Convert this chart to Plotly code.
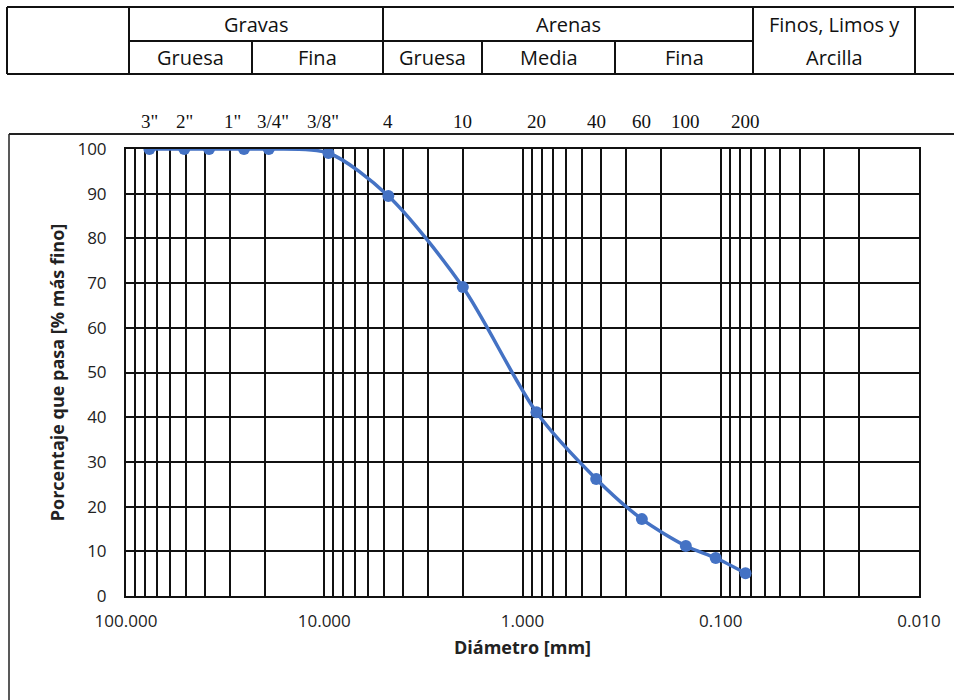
import math
import plotly.graph_objects as go

# Granulometric curve: particle diameter (mm) vs. percent passing
diametro_mm = [76.2, 50.8, 38.1, 25.4, 19.05, 9.525, 4.75, 2.0, 0.85, 0.425, 0.25, 0.15, 0.106, 0.075]
pasa_pct = [100, 100, 100, 100, 100, 99.1, 89.5, 69.1, 41.1, 26.2, 17.2, 11.2, 8.5, 5.1]

# Sieve designations shown above the plot
tamiz_etiquetas = ['3"', '2"', '1"', '3/4"', '3/8"', '4', '10', '20', '40', '60', '100', '200']
tamiz_mm = [76.2, 50.8, 25.4, 19.05, 9.525, 4.75, 2.0, 0.85, 0.425, 0.25, 0.15, 0.075]

# Soil classification header
grupos = ["Gravas", "Arenas"]
subgrupos = ["Gruesa", "Fina", "Gruesa", "Media", "Fina"]
finos = ["Finos, Limos y", "Arcilla"]

y_ticks = list(range(0, 101, 10))

W, H = 954, 700
L, R, T, B = 126, 35, 149, 104
pw, ph = W - L - R, H - T - B


def px(x):
    return (x - L) / pw


def py(y):
    return (H - B - y) / ph


# log grid: every 1..9 multiple of each decade from 0.01 to 100
x_tickvals, x_ticktext = [], []
for e in range(-2, 2):
    for d in range(1, 10):
        v = d * 10 ** e
        x_tickvals.append(v)
        x_ticktext.append(f"{v:.3f}" if d == 1 else "")
x_tickvals.append(100)
x_ticktext.append("100.000")

BLUE = "#4472C4"
INK = "#222"
SANS = "'Open Sans', Lato, sans-serif"
SERIF = "'Liberation Serif', 'DejaVu Serif', serif"

fig = go.Figure()
fig.add_trace(go.Scatter(
    x=diametro_mm, y=pasa_pct, mode="lines+markers",
    line=dict(color=BLUE, width=3.5, shape="spline", smoothing=0.8),
    marker=dict(color=BLUE, size=12),
    showlegend=False, hoverinfo="x+y",
))

shapes = []


def seg(x0, y0, x1, y1, w=2, c="#111"):
    shapes.append(dict(type="line", xref="paper", yref="paper",
                       x0=px(x0), y0=py(y0), x1=px(x1), y1=py(y1),
                       line=dict(color=c, width=w)))


# header table borders
row_top, row_mid, row_bot = 7, 41, 74
seg(7, row_top, 954, row_top)
seg(7, row_bot, 954, row_bot)
seg(129, row_mid, 753, row_mid)
for xv in (7, 129, 383, 753, 915):
    seg(xv, row_top, xv, row_bot)
for xv in (252, 482, 615):
    seg(xv, row_mid, xv, row_bot)

# chart frame
seg(9, 134, 954, 134, w=2, c="#222")
seg(9, 134, 9, 700, w=1.5, c="#222")

annotations = []


def label(text, x, y, size=20, family=SANS):
    annotations.append(dict(text=text, xref="paper", yref="paper",
                            x=px(x), y=py(y), xanchor="center", yanchor="middle",
                            showarrow=False, font=dict(family=family, size=size, color="#111")))


label(grupos[0], (129 + 383) / 2, 24)
label(grupos[1], (383 + 753) / 2, 24)
sub_bounds = [129, 252, 383, 482, 615, 753]
for i, s in enumerate(subgrupos):
    label(s, (sub_bounds[i] + sub_bounds[i + 1]) / 2, 57)
label(finos[0], (753 + 915) / 2, 24)
label(finos[1], (753 + 915) / 2, 57)

# sieve labels placed at their openings on the diameter scale;
# a couple of crowded ones are nudged apart
nudge = {'1"': -11, '3/4"': 4, '3/8"': -5}
for t, d in zip(tamiz_etiquetas, tamiz_mm):
    annotations.append(dict(text=t, xref="x", yref="paper", x=math.log10(d),
                            y=py(122), xanchor="center", yanchor="middle", showarrow=False,
                            xshift=nudge.get(t, 0),
                            font=dict(family=SERIF, size=19, color="#111")))

fig.update_layout(
    width=W, height=H,
    margin=dict(l=L, r=R, t=T, b=B, autoexpand=False),
    paper_bgcolor="white", plot_bgcolor="white",
    font=dict(family=SANS, size=16, color=INK),
    shapes=shapes, annotations=annotations,
    xaxis=dict(
        type="log", range=[2, -2],
        tickvals=x_tickvals, ticktext=x_ticktext,
        showgrid=True, gridcolor="#111", gridwidth=1.5,
        showline=True, linecolor="#111", linewidth=2, mirror=True,
        ticks="outside", ticklen=9, tickcolor="rgba(0,0,0,0)",
        tickfont=dict(family=SANS, size=17, color=INK),
        zeroline=False,
        title=dict(text="<b>Diámetro [mm]</b>", standoff=10,
                   font=dict(family=SANS, size=18, color=INK)),
    ),
    yaxis=dict(
        range=[0, 100], tickvals=y_ticks,
        showgrid=True, gridcolor="#111", gridwidth=1.5,
        showline=True, linecolor="#111", linewidth=2, mirror=True,
        ticks="outside", ticklen=14, tickcolor="rgba(0,0,0,0)",
        tickfont=dict(family=SANS, size=17, color=INK),
        zeroline=False,
        title=dict(text="<b>Porcentaje que pasa [% más fino]</b>", standoff=8,
                   font=dict(family=SANS, size=18, color=INK)),
    ),
)

fig.write_html("out.html")
